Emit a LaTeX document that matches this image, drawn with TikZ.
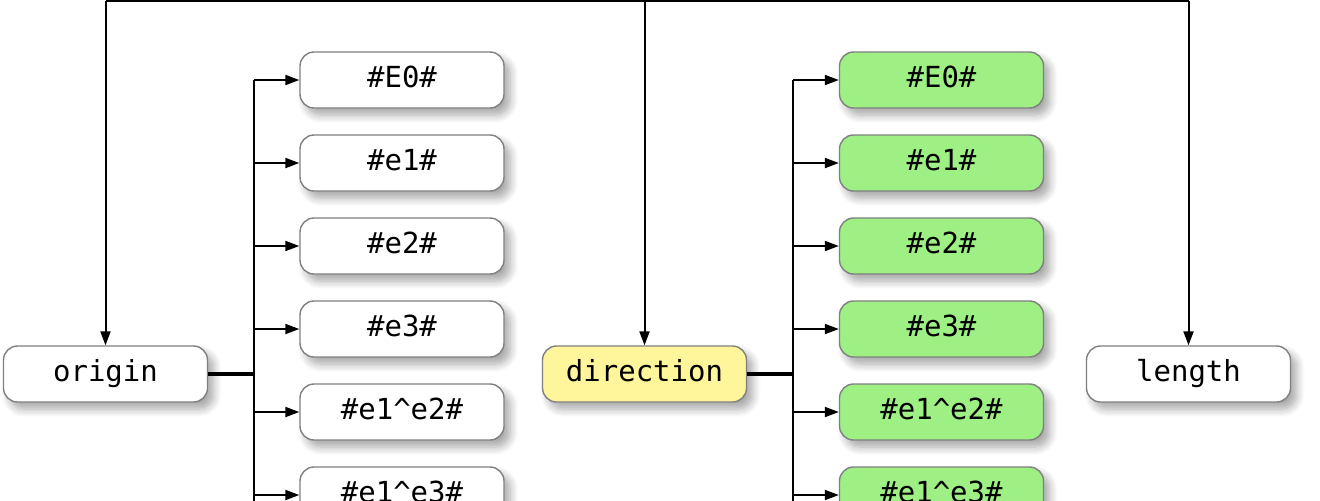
\documentclass[tikz,border=0pt]{standalone}
\usepackage{fontspec}
\setmonofont{DejaVu Sans Mono}
\usetikzlibrary{arrows.meta,shadows.blur}
\definecolor{boxline}{HTML}{808080}
\definecolor{dirfill}{HTML}{FFF59A}
\definecolor{compfill}{HTML}{9EEF84}

\begin{document}
\begin{tikzpicture}[x=0.5pt,y=-0.5pt,font=\ttfamily\fontsize{14.5}{17}\selectfont,
	box/.style={draw=boxline,line width=0.7pt,rounded corners=7pt,fill=white,
		minimum width=102pt,minimum height=28pt,text height=0.7em,text depth=0pt,
		blur shadow={shadow xshift=3pt,shadow yshift=-3.5pt,shadow blur radius=4pt,shadow blur steps=8,shadow opacity=35}},
	conn/.style={line width=1pt,-{Triangle[length=7pt,width=5pt]}},
	trunk/.style={line width=1.3pt},
	joinline/.style={line width=2pt}]
	\useasboundingbox (0,0) rectangle (1320,500);
	\clip (0,0) rectangle (1320,500);
	% top row
	\node[box] (origin) at (105.5,374) {origin};
	\node[box,fill=dirfill] (direction) at (644.5,374) {direction};
	\node[box] (length) at (1188.5,374) {length};
	\coordinate (hub) at (645,1);
	\draw[line width=1pt] (origin.north |- hub) -- (length.north |- hub);
	\foreach \n in {origin,direction,length}
		\draw[conn] (\n.north |- hub) -- (\n.north);
	% components
	\coordinate (obot) at (254,510);
	\coordinate (dbot) at (793,510);
	\foreach \lbl [count=\i] in {\#E0\#,\#e1\#,\#e2\#,\#e3\#,\#e1\textasciicircum{}e2\#,\#e1\textasciicircum{}e3\#}{
		\node[box] (o\i) at (402,{80+83*(\i-1)}) {\lbl};
		\node[box,fill=compfill] (d\i) at (941.5,{80+83*(\i-1)}) {\lbl};
		\draw[conn] (o\i.west -| obot) -- (o\i.west);
		\draw[conn] (d\i.west -| dbot) -- (d\i.west);
	}
	\draw[trunk] (o1.west -| obot) -- (obot);
	\draw[trunk] (d1.west -| dbot) -- (dbot);
	\draw[joinline] (origin.east) -- (origin.east -| obot);
	\draw[joinline] (direction.east) -- (direction.east -| dbot);
\end{tikzpicture}
\end{document}
